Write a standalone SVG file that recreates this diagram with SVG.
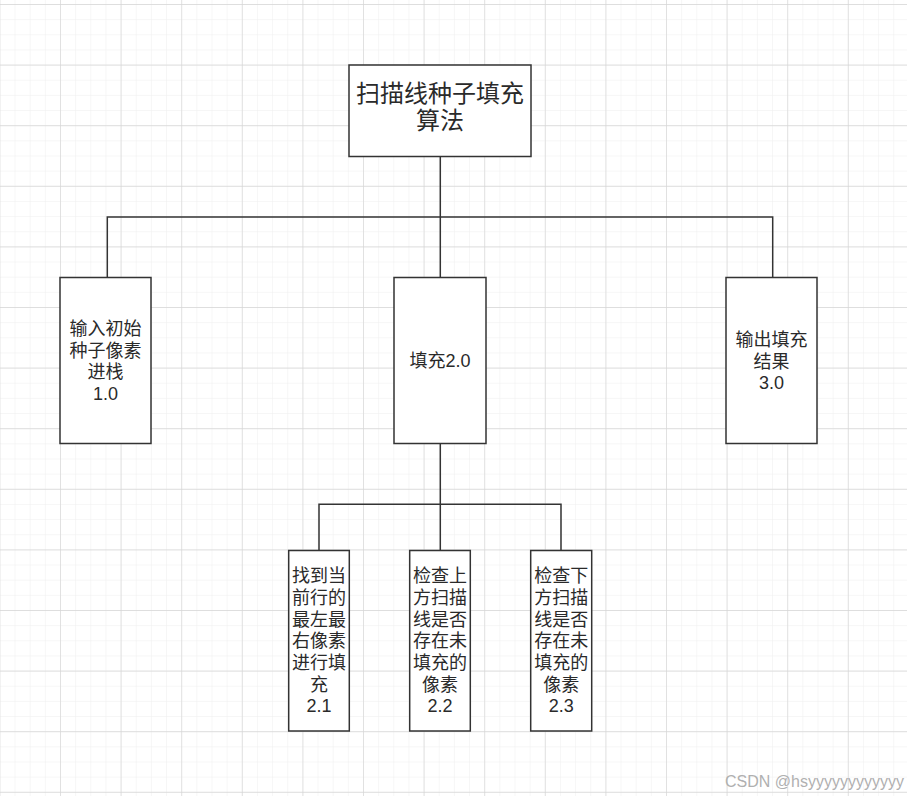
<svg xmlns="http://www.w3.org/2000/svg" width="907" height="796" viewBox="0 0 907 796">
<defs>
<pattern id="minor" patternUnits="userSpaceOnUse" x="-0.6" y="4" width="15.15" height="15.15">
<path d="M0 0H15.15M0 0V15.15" fill="none" stroke="#eeeeee" stroke-width="1"/>
</pattern>
<pattern id="major" patternUnits="userSpaceOnUse" x="-0.6" y="4" width="60.6" height="60.6">
<path d="M0 0H60.6M0 0V60.6" fill="none" stroke="#d6d6d6" stroke-width="1.3"/>
</pattern>
</defs>
<style>
.box{fill:#fff;stroke:#333;stroke-width:1.5}
.t{font-family:"Liberation Sans","Noto Sans CJK SC",sans-serif;font-size:18px;fill:#2a2a2a;text-anchor:middle}
.big{font-size:24px}
.c{fill:none;stroke:#333;stroke-width:1.5}
.wm{font-family:"Liberation Sans",sans-serif;font-size:16px;fill:#b0b0b0}
</style>
<rect width="907" height="796" fill="#fff"/>
<rect width="907" height="796" fill="url(#minor)"/>
<rect width="907" height="796" fill="url(#major)"/>
<g id="connectors">
<path class="c" d="M440.3 156.5V217H107.3V277.5"/>
<path class="c" d="M440.3 217H772.7V277.5"/>
<path class="c" d="M440.3 277.5V217"/>
<path class="c" d="M440.3 443.5V504.3H319V550.5"/>
<path class="c" d="M440.3 504.3H561V550.5"/>
<path class="c" d="M440.3 504.3V550.5"/>
</g>
<g id="root">
<rect class="box" x="349" y="65" width="182" height="91.5"/>
<text class="t big" x="440" y="102">扫描线种子填充</text>
<text class="t big" x="440" y="129">算法</text>
</g>
<g id="n1">
<rect class="box" x="60" y="277.5" width="91" height="166"/>
<text class="t" x="105.5" y="335">输入初始</text>
<text class="t" x="105.5" y="356.5">种子像素</text>
<text class="t" x="105.5" y="378">进栈</text>
<text class="t" x="105.5" y="399.5">1.0</text>
</g>
<g id="n2">
<rect class="box" x="394" y="277.5" width="92" height="166"/>
<text class="t" x="440" y="367">填充2.0</text>
</g>
<g id="n3">
<rect class="box" x="726" y="277.5" width="91" height="166"/>
<text class="t" x="771.5" y="346">输出填充</text>
<text class="t" x="771.5" y="367.5">结果</text>
<text class="t" x="771.5" y="389">3.0</text>
</g>
<g id="n21">
<rect class="box" x="288.7" y="550.5" width="60.6" height="180.5"/>
<text class="t" x="319" y="582.2">找到当</text>
<text class="t" x="319" y="603.9">前行的</text>
<text class="t" x="319" y="625.6">最左最</text>
<text class="t" x="319" y="647.3">右像素</text>
<text class="t" x="319" y="669">进行填</text>
<text class="t" x="319" y="690.7">充</text>
<text class="t" x="319" y="712.4">2.1</text>
</g>
<g id="n22">
<rect class="box" x="409.7" y="550.5" width="60.6" height="180.5"/>
<text class="t" x="440" y="582.2">检查上</text>
<text class="t" x="440" y="603.9">方扫描</text>
<text class="t" x="440" y="625.6">线是否</text>
<text class="t" x="440" y="647.3">存在未</text>
<text class="t" x="440" y="669">填充的</text>
<text class="t" x="440" y="690.7">像素</text>
<text class="t" x="440" y="712.4">2.2</text>
</g>
<g id="n23">
<rect class="box" x="530.7" y="550.5" width="61" height="180.5"/>
<text class="t" x="561.2" y="582.2">检查下</text>
<text class="t" x="561.2" y="603.9">方扫描</text>
<text class="t" x="561.2" y="625.6">线是否</text>
<text class="t" x="561.2" y="647.3">存在未</text>
<text class="t" x="561.2" y="669">填充的</text>
<text class="t" x="561.2" y="690.7">像素</text>
<text class="t" x="561.2" y="712.4">2.3</text>
</g>
<text class="wm" x="725" y="786.5">CSDN @hsyyyyyyyyyyyy</text>
</svg>
